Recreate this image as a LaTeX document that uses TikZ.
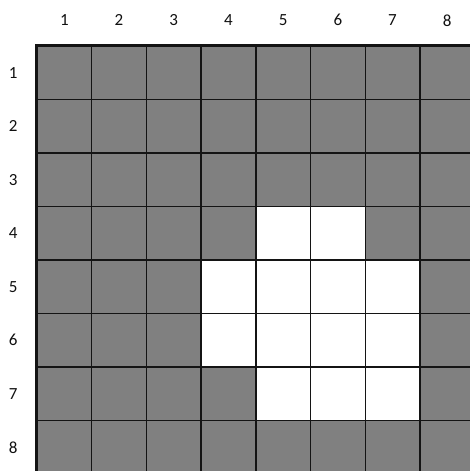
\documentclass[tikz,border=0pt]{standalone}
\usepackage{fontspec}
\setmainfont{Carlito}
\usetikzlibrary{positioning}
\usepackage{xcolor}
\definecolor{cellgray}{HTML}{808080}
\definecolor{gridline}{HTML}{141414}
\definecolor{labeltext}{HTML}{101010}

\begin{document}
\begin{tikzpicture}[x=1pt, y=-1pt,
    cell/.style={draw=gridline, line width=1.4pt, rectangle, inner sep=0pt,
                 minimum width=54.7pt, minimum height=53.5pt, fill=cellgray},
    hole/.style={cell, fill=white},
    lbl/.style={font=\fontsize{17}{20}\selectfont, text=labeltext, inner sep=0pt}]
  \useasboundingbox (0,0) rectangle (470,471);
  \clip (0,0) rectangle (470,471);

  % grey board
  \foreach \r in {1,...,8}
    \foreach \c in {1,...,8}
      \node[cell] (c\r\c) at ({37+54.7*(\c-0.5)}, {46+53.5*(\r-0.5)}) {};

  % white region
  \foreach \r/\c in {4/5,4/6, 5/4,5/5,5/6,5/7, 6/4,6/5,6/6,6/7, 7/5,7/6,7/7}
    \node[hole] (h\r\c) at (c\r\c) {};

  % thick outer edge
  \draw[gridline, line width=2.8pt] (c81.south west) -- (c11.north west) -- (c18.north east);

  % column and row numbers
  \foreach \c in {1,...,8}
    \node[lbl] (col\c) at ([yshift=25pt]c1\c.north) {\c};
  \foreach \r in {1,...,8}
    \node[lbl] (row\r) at ([xshift=-23pt]c\r1.west) {\r};
\end{tikzpicture}
\end{document}
